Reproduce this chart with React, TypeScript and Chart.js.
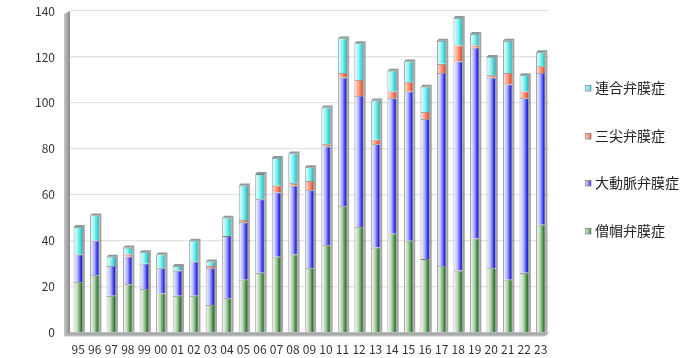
import React, { useEffect, useRef } from "react";
import { Chart, registerables } from "chart.js";

Chart.register(...registerables);

const categories = ["95","96","97","98","99","00","01","02","03","04","05","06","07","08","09","10","11","12","13","14","15","16","17","18","19","20","21","22","23"];
const mitral = [22,25,16,21,19,17,16,16,12,15,23,26,33,34,28,38,55,46,37,43,40,32,29,27,41,28,23,26,47];
const aortic = [12,15,13,12,11,11,11,15,16,27,25,32,28,30,34,43,56,57,45,59,65,61,84,91,83,83,85,76,66];
const tricuspid = [0,0,0,1,0,0,0,0,1,0,1,0,3,1,4,1,2,7,2,3,4,3,4,7,1,1,5,3,3];
const combined = [12,11,4,3,5,6,2,9,2,8,15,11,12,13,6,16,15,16,17,9,9,11,10,12,5,8,14,7,6];
const yTicks = [0,20,40,60,80,100,120,140];

const seriesNames = ["僧帽弁膜症","大動脈弁膜症","三尖弁膜症","連合弁膜症"];
const palettes = [
  ["#ffffff", "#b3d0ae", "#3a8a3a", "#1d4f1d"],
  ["#ffffff", "#b0b0ff", "#2e2ef0", "#1a1a9a"],
  ["#ffe4da", "#ffa088", "#f0603c", "#b04020"],
  ["#eaffff", "#98f2f2", "#30d8d8", "#1a9a9a"],
];

const FONT = "'Noto Sans CJK JP', 'DejaVu Sans', sans-serif";

function makeGradient(ctx: any, idx: number) {
  const chart = ctx.chart;
  const pal = palettes[idx];
  if (!chart.chartArea || ctx.type !== "data") return pal[2];
  const meta = chart.getDatasetMeta(ctx.datasetIndex);
  const el = meta && meta.data ? meta.data[ctx.dataIndex] : null;
  const xs = chart.scales.x;
  const cx = xs.getPixelForValue(ctx.dataIndex);
  const w = el && el.width ? el.width : 9;
  const g = chart.ctx.createLinearGradient(cx - w / 2, 0, cx + w / 2, 0);
  g.addColorStop(0, pal[0]);
  g.addColorStop(0.45, pal[1]);
  g.addColorStop(0.8, pal[2]);
  g.addColorStop(1, pal[3]);
  return g;
}

const depthPlugin = {
  id: "depth",
  beforeDatasetsDraw(chart: any) {
    const { ctx, chartArea } = chart;
    const y = chart.scales.y;
    ctx.save();
    const wg = ctx.createLinearGradient(chartArea.left - 6, 0, chartArea.left, 0);
    wg.addColorStop(0, "#c8c8c8");
    wg.addColorStop(1, "#8a8a8a");
    ctx.fillStyle = wg;
    ctx.beginPath();
    ctx.moveTo(chartArea.left - 6, y.getPixelForValue(140) + 3);
    ctx.lineTo(chartArea.left, y.getPixelForValue(140));
    ctx.lineTo(chartArea.left, y.getPixelForValue(0));
    ctx.lineTo(chartArea.left - 6, y.getPixelForValue(0) + 4);
    ctx.closePath();
    ctx.fill();
    const fg = ctx.createLinearGradient(0, chartArea.bottom, 0, chartArea.bottom + 4);
    fg.addColorStop(0, "#9a9a9a");
    fg.addColorStop(1, "#c4c4c4");
    ctx.fillStyle = fg;
    ctx.beginPath();
    ctx.moveTo(chartArea.left, chartArea.bottom);
    ctx.lineTo(chartArea.right, chartArea.bottom);
    ctx.lineTo(chartArea.right - 4, chartArea.bottom + 4);
    ctx.lineTo(chartArea.left - 6, chartArea.bottom + 4);
    ctx.closePath();
    ctx.fill();
    ctx.restore();
  },
  afterDatasetsDraw(chart: any) {
    const { ctx } = chart;
    const last = chart.getDatasetMeta(chart.data.datasets.length - 1);
    ctx.save();
    last.data.forEach((bar: any) => {
      const w = bar.width;
      const l = bar.x - w / 2;
      const r = bar.x + w / 2;
      const t = bar.y;
      ctx.fillStyle = "#8c9a9a";
      ctx.beginPath();
      ctx.moveTo(l, t);
      ctx.lineTo(l + 2, t - 2);
      ctx.lineTo(r + 2, t - 2);
      ctx.lineTo(r, t);
      ctx.closePath();
      ctx.fill();
      ctx.fillStyle = "rgba(90,90,90,0.55)";
      ctx.beginPath();
      ctx.moveTo(r, t);
      ctx.lineTo(r + 2, t - 2);
      ctx.lineTo(r + 2, chart.scales.y.getPixelForValue(0) - 1);
      ctx.lineTo(r, chart.scales.y.getPixelForValue(0));
      ctx.closePath();
      ctx.fill();
    });
    ctx.restore();
  },
  afterDraw(chart: any) {
    const { ctx } = chart;
    const items = [3, 2, 1, 0];
    const ys = [88, 136, 183, 231];
    ctx.save();
    ctx.font = `14px ${FONT}`;
    ctx.textBaseline = "middle";
    items.forEach((di, i) => {
      const pal = palettes[di];
      const bx = 585, by = ys[i] - 3;
      const g = ctx.createLinearGradient(bx, 0, bx + 6, 0);
      g.addColorStop(0, pal[0]);
      g.addColorStop(1, pal[2]);
      ctx.fillStyle = g;
      ctx.fillRect(bx, by, 6, 6);
      ctx.strokeStyle = "#888";
      ctx.lineWidth = 0.8;
      ctx.strokeRect(bx + 0.5, by + 0.5, 5.5, 5.5);
      ctx.fillStyle = "#222";
      ctx.fillText(seriesNames[di], 595, ys[i]);
    });
    ctx.restore();
  },
};

export default function App() {
  const ref = useRef<HTMLCanvasElement>(null);
  useEffect(() => {
    document.body.style.margin = "0";
    const canvas = ref.current!;
    const values = [mitral, aortic, tricuspid, combined];
    const chart = new Chart(canvas, {
      type: "bar",
      data: {
        labels: categories,
        datasets: values.map((d, i) => ({
          label: seriesNames[i],
          data: d,
          backgroundColor: (c: any) => makeGradient(c, i),
          borderColor: "#7a7a7a",
          borderWidth: 0.8,
          barPercentage: 0.56,
          categoryPercentage: 1,
        })),
      },
      options: {
        responsive: false,
        animation: false,
        devicePixelRatio: 1,
        layout: { padding: { left: 0, right: 146, top: 11, bottom: -1 } },
        plugins: { legend: { display: false }, tooltip: { enabled: false } },
        scales: {
          x: {
            stacked: true,
            grid: { display: false },
            border: { display: false },
            ticks: { color: "#333", font: { family: FONT, size: 12 }, padding: 2, maxRotation: 0, autoSkip: false },
          },
          y: {
            stacked: true,
            min: 0,
            max: 140,
            afterBuildTicks: (s: any) => { s.ticks = yTicks.map((v) => ({ value: v })); },
            afterFit: (s: any) => { s.width = 70; s.paddingTop = 0; s.paddingBottom = 0; },
            grid: { color: "#e4e4e4", drawTicks: false, lineWidth: 1.2 },
            border: { display: false },
            ticks: { color: "#333", font: { family: FONT, size: 12 }, padding: 15 },
          },
        },
      },
      plugins: [depthPlugin],
    } as any);
    return () => chart.destroy();
  }, []);
  return (
    <div style={{ width: 695, height: 358 }}>
      <canvas ref={ref} width={695} height={358} />
    </div>
  );
}
